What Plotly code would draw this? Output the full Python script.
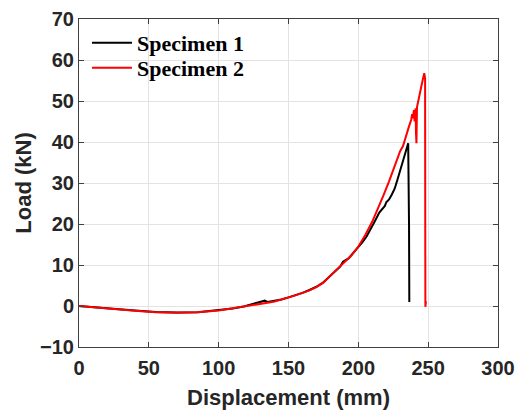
import plotly.graph_objects as go

disp1 = [0, 10, 25, 40, 55, 70, 85, 100, 110, 118, 124, 128, 131, 133, 135, 137, 140, 145, 150, 155,
         160, 165, 170, 175, 180, 184, 187, 189, 191, 193, 195, 198, 200, 203, 206, 209, 212, 215,
         217, 219, 220, 222, 224, 226, 228, 230, 232, 234, 235.7, 236.3, 236.5]
load1 = [0, -0.3, -0.7, -1.1, -1.45, -1.6, -1.5, -1.05, -0.6, -0.1, 0.4, 0.8, 1.0, 1.3, 1.0, 1.1, 1.2, 1.6, 2.1, 2.6,
         3.2, 3.9, 4.7, 5.8, 7.3, 8.5, 9.6, 10.8, 11.1, 11.6, 12.4, 13.5, 14.3, 15.6, 17.0, 18.8, 20.8, 22.8,
         23.6, 24.4, 25.3, 26.0, 27.2, 28.6, 30.8, 33.2, 35.2, 37.5, 39.7, 20.0, 1.0]

disp2 = [0, 10, 25, 40, 55, 70, 85, 100, 110, 118, 125, 130, 135, 140, 145, 150, 155, 160, 165, 170,
         175, 180, 185, 190, 195, 200, 205, 210, 214, 218, 222, 226, 230, 232, 234, 236, 237.9, 238.5,
         239, 239.8, 240.3, 241, 241.3, 241.6, 242, 243, 244.5, 246, 247.2, 247.8, 248.0, 248.4]
load2 = [0, -0.35, -0.75, -1.15, -1.5, -1.65, -1.55, -1.1, -0.6, -0.1, 0.3, 0.5, 0.8, 1.1, 1.6, 2.0, 2.6, 3.2, 3.8, 4.6,
         5.7, 7.4, 9.0, 10.6, 12.3, 14.5, 17.3, 20.6, 23.7, 27.0, 30.4, 34.0, 37.8, 39.0, 41.5, 43.5, 45.5, 46.8,
         45.8, 47.8, 45.0, 48.2, 42.0, 39.7, 48.5, 50.3, 52.5, 55.0, 56.8, 55.5, -0.2, 1.2]

x_ticks = [0, 50, 100, 150, 200, 250, 300]
y_ticks = [-10, 0, 10, 20, 30, 40, 50, 60, 70]

fig = go.Figure()
fig.add_trace(go.Scatter(x=disp1, y=load1, mode="lines", name="Specimen 1",
                         line=dict(color="black", width=2), legend="legend"))
fig.add_trace(go.Scatter(x=disp2, y=load2, mode="lines", name="Specimen 2",
                         line=dict(color="#ff0000", width=2), legend="legend2"))

tick_font = dict(family="Liberation Sans", size=20, color="#262626", weight="bold")
title_font = dict(family="Liberation Sans", size=22, color="#262626", weight="bold")

axis_common = dict(
    showline=True, linecolor="#404040", linewidth=1, mirror="ticks",
    ticks="inside", ticklen=5, tickcolor="#404040",
    showgrid=True, gridcolor="#e3e3e3", gridwidth=1, zeroline=False,
    tickfont=tick_font, automargin=False,
)

fig.update_xaxes(range=[0, 300], tickvals=x_ticks, ticklabelstandoff=3,
                 title=dict(text="Displacement (mm)", standoff=14, font=title_font),
                 **axis_common)
fig.update_yaxes(range=[-10, 70], tickvals=y_ticks,
                 title=dict(text="Load (kN)", standoff=2, font=title_font),
                 **axis_common)

leg_font = dict(family="Liberation Serif", size=22, color="black", weight="bold")
fig.update_layout(
    width=518, height=402,
    margin=dict(l=71, r=28, t=11, b=63),
    plot_bgcolor="white", paper_bgcolor="white",
    showlegend=True,
    legend=dict(x=0.019, y=0.927, xanchor="left", yanchor="middle",
                bgcolor="rgba(0,0,0,0)", borderwidth=0, itemwidth=40, font=leg_font),
    legend2=dict(x=0.019, y=0.851, xanchor="left", yanchor="middle",
                 bgcolor="rgba(0,0,0,0)", borderwidth=0, itemwidth=40, font=leg_font),
)

fig.write_html("out.html")
